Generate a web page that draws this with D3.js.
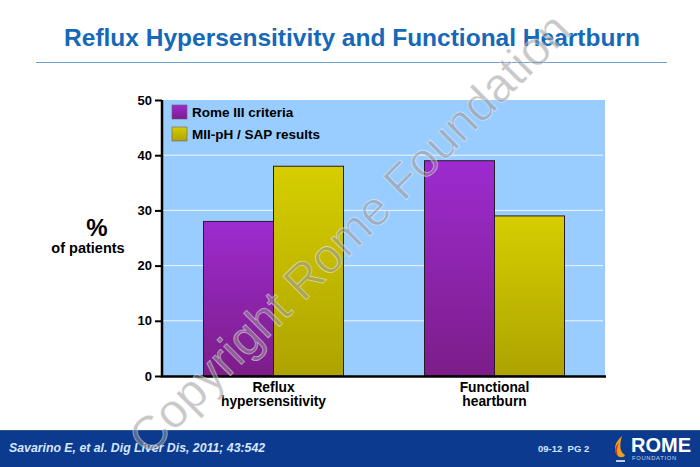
<!DOCTYPE html>
<html lang="en">
<head>
    <meta charset="UTF-8">
    <script src="https://cdn.jsdelivr.net/npm/d3@7"></script>
    <title>Reflux Hypersensitivity and Functional Heartburn</title>
    <style>
        body { margin: 0; background: #fff; }
        svg { display: block; font-family: "Liberation Sans", Arial, Helvetica, sans-serif; }
    </style>
</head>
<body>
    <div class="fig"></div>

    <script>
        // chart data
        const groups = ["Reflux hypersensitivity", "Functional heartburn"];
        const groupLines = [["Reflux", "hypersensitivity"], ["Functional", "heartburn"]];
        const seriesNames = ["Rome III criteria", "MII-pH / SAP results"];
        const romeValues = [28, 39];
        const miiValues = [38, 29];
        const yTicks = [0, 10, 20, 30, 40, 50];

        const width = 700, height = 467;

        const svg = d3.select(".fig").append("svg")
            .attr("width", width)
            .attr("height", height);

        // gradients for the bars
        const defs = svg.append("defs");
        const gradPurple = defs.append("linearGradient").attr("id", "gPurple")
            .attr("x1", 0).attr("y1", 0).attr("x2", 0).attr("y2", 1);
        gradPurple.append("stop").attr("offset", "0%").attr("stop-color", "#9d2bd0");
        gradPurple.append("stop").attr("offset", "100%").attr("stop-color", "#7c1d88");
        const gradYellow = defs.append("linearGradient").attr("id", "gYellow")
            .attr("x1", 0).attr("y1", 0).attr("x2", 0).attr("y2", 1);
        gradYellow.append("stop").attr("offset", "0%").attr("stop-color", "#d6ce00");
        gradYellow.append("stop").attr("offset", "100%").attr("stop-color", "#aea300");

        /*------------------- Title --------------------*/
        svg.append("text")
            .attr("x", 352).attr("y", 46)
            .attr("text-anchor", "middle")
            .attr("font-size", 24.5).attr("font-weight", "bold")
            .attr("fill", "#1668b8")
            .text("Reflux Hypersensitivity and Functional Heartburn");

        svg.append("line")
            .attr("x1", 36).attr("x2", 667)
            .attr("y1", 62.5).attr("y2", 62.5)
            .attr("stroke", "#6f9fc8").attr("stroke-width", 1);

        /*------------------- Plot --------------------*/
        const plot = { left: 163, right: 605, top: 100, bottom: 376 };

        const y = d3.scaleLinear().domain([0, 50]).range([plot.bottom, plot.top]);
        const x0 = d3.scaleBand().domain(groups).range([plot.left, plot.right]);
        const x1 = d3.scaleBand().domain(seriesNames).range([0, 140]);

        svg.append("rect")
            .attr("x", plot.left).attr("y", plot.top)
            .attr("width", plot.right - plot.left)
            .attr("height", plot.bottom - plot.top)
            .attr("fill", "#99ccff");

        // white gridlines
        svg.append("g").selectAll("line")
            .data(yTicks.filter(t => t > 0 && t < 50))
            .enter().append("line")
            .attr("x1", plot.left).attr("x2", plot.right - 2)
            .attr("y1", d => y(d)).attr("y2", d => y(d))
            .attr("stroke", "#eef6ff").attr("stroke-width", 1);

        // bars
        const barData = [];
        groups.forEach((g, i) => {
            barData.push({ group: g, series: seriesNames[0], value: romeValues[i], fill: "url(#gPurple)" });
            barData.push({ group: g, series: seriesNames[1], value: miiValues[i], fill: "url(#gYellow)" });
        });

        svg.append("g").selectAll("rect")
            .data(barData)
            .enter().append("rect")
            .attr("x", d => x0(d.group) + (x0.bandwidth() - 140) / 2 + x1(d.series))
            .attr("y", d => y(d.value))
            .attr("width", x1.bandwidth())
            .attr("height", d => y(0) - y(d.value))
            .attr("fill", d => d.fill)
            .attr("stroke", "#2a1a2a").attr("stroke-width", 1);

        // y axis
        const yAxis = svg.append("g")
            .attr("transform", `translate(${plot.left - 1},0)`)
            .call(d3.axisLeft(y).tickValues(yTicks).tickSize(7).tickPadding(3));
        yAxis.select(".domain").remove();
        yAxis.selectAll(".tick line").attr("stroke", "#000").attr("stroke-width", 2);
        yAxis.selectAll(".tick text")
            .attr("font-size", 13).attr("font-weight", "bold")
            .attr("font-family", "Liberation Sans, Arial, sans-serif")
            .attr("fill", "#000");

        svg.append("line")
            .attr("x1", plot.left - 1).attr("x2", plot.left - 1)
            .attr("y1", plot.top).attr("y2", plot.bottom + 1)
            .attr("stroke", "#000").attr("stroke-width", 2.5);
        svg.append("line")
            .attr("x1", plot.left - 2).attr("x2", plot.right + 1)
            .attr("y1", plot.bottom + 0.5).attr("y2", plot.bottom + 0.5)
            .attr("stroke", "#000").attr("stroke-width", 2.5);

        // x labels
        const xLab = svg.append("g").selectAll("text")
            .data(groups)
            .enter().append("text")
            .attr("x", d => x0(d) + x0.bandwidth() / 2)
            .attr("y", 392)
            .attr("text-anchor", "middle")
            .attr("font-size", 13.8).attr("font-weight", "bold")
            .attr("fill", "#000");
        xLab.each(function(d, i) {
            d3.select(this).selectAll("tspan")
                .data(groupLines[i])
                .enter().append("tspan")
                .attr("x", x0(d) + x0.bandwidth() / 2)
                .attr("dy", (t, j) => j === 0 ? 0 : 13.5)
                .text(t => t);
        });

        // y title
        svg.append("text")
            .attr("x", 97).attr("y", 236)
            .attr("text-anchor", "middle")
            .attr("font-size", 24).attr("font-weight", "bold")
            .text("%");
        svg.append("text")
            .attr("x", 88).attr("y", 253)
            .attr("text-anchor", "middle")
            .attr("font-size", 14.5).attr("font-weight", "bold")
            .text("of patients");

        // legend
        const legend = svg.append("g").selectAll("g")
            .data(seriesNames)
            .enter().append("g")
            .attr("transform", (d, i) => `translate(172,${105 + i * 22})`);
        legend.append("rect")
            .attr("width", 15).attr("height", 14)
            .attr("fill", (d, i) => i === 0 ? "url(#gPurple)" : "url(#gYellow)")
            .attr("stroke", "#6a5a7a").attr("stroke-width", 0.6);
        legend.append("text")
            .attr("x", 20).attr("y", 12)
            .attr("font-size", 13.5).attr("font-weight", "bold")
            .text(d => d);

        /*------------------- Footer --------------------*/
        svg.append("rect")
            .attr("x", 0).attr("y", 430)
            .attr("width", width).attr("height", height - 430)
            .attr("fill", "#0b3a8e");
        svg.append("line")
            .attr("x1", 0).attr("x2", width).attr("y1", 430.5).attr("y2", 430.5)
            .attr("stroke", "#33558f").attr("stroke-width", 1);
        svg.append("text")
            .attr("x", 9).attr("y", 452)
            .attr("font-size", 12.3).attr("font-weight", "bold")
            .attr("font-style", "italic")
            .attr("fill", "#d6e6ff")
            .text("Savarino E, et al. Dig Liver Dis, 2011; 43:542");
        svg.append("text")
            .attr("x", 538).attr("y", 452)
            .attr("font-size", 9.5).attr("font-weight", "bold")
            .attr("fill", "#d6e6ff")
            .attr("xml:space", "preserve")
            .text("09-12  PG 2");

        // logo: flame + ROME FOUNDATION
        const logo = svg.append("g").attr("transform", "translate(613,436)");
        logo.append("path")
            .attr("d", "M9,0 C2,6 0,13 4,19 C6,22 11,22 12,19 C7,16 6,10 9,0 Z")
            .attr("fill", "#e8a020");
        logo.append("path")
            .attr("d", "M6,7 C1,11 1,17 5,20 C3,15 4,11 6,7 Z")
            .attr("fill", "#d03020");
        logo.append("line")
            .attr("x1", 3).attr("x2", 12).attr("y1", 25).attr("y2", 25)
            .attr("stroke", "#fff").attr("stroke-width", 1.5);
        logo.append("text")
            .attr("x", 18).attr("y", 16)
            .attr("font-size", 20).attr("font-weight", "bold")
            .attr("fill", "#fff")
            .text("ROME");
        logo.append("text")
            .attr("x", 19).attr("y", 24)
            .attr("font-size", 5.8)
            .attr("letter-spacing", 0.7)
            .attr("fill", "#c8d8f0")
            .text("FOUNDATION");

        /*------------------- Watermark --------------------*/
        svg.append("text")
            .attr("transform", "translate(352,236) rotate(-45)")
            .attr("text-anchor", "middle")
            .attr("dominant-baseline", "middle")
            .attr("font-size", 48)
            .attr("fill", "#999999")
            .attr("fill-opacity", 0.55)
            .attr("stroke", "#ffffff")
            .attr("stroke-opacity", 0.5)
            .attr("stroke-width", 0.8)
            .text("Copyright Rome Foundation");
    </script>
</body>
</html>
